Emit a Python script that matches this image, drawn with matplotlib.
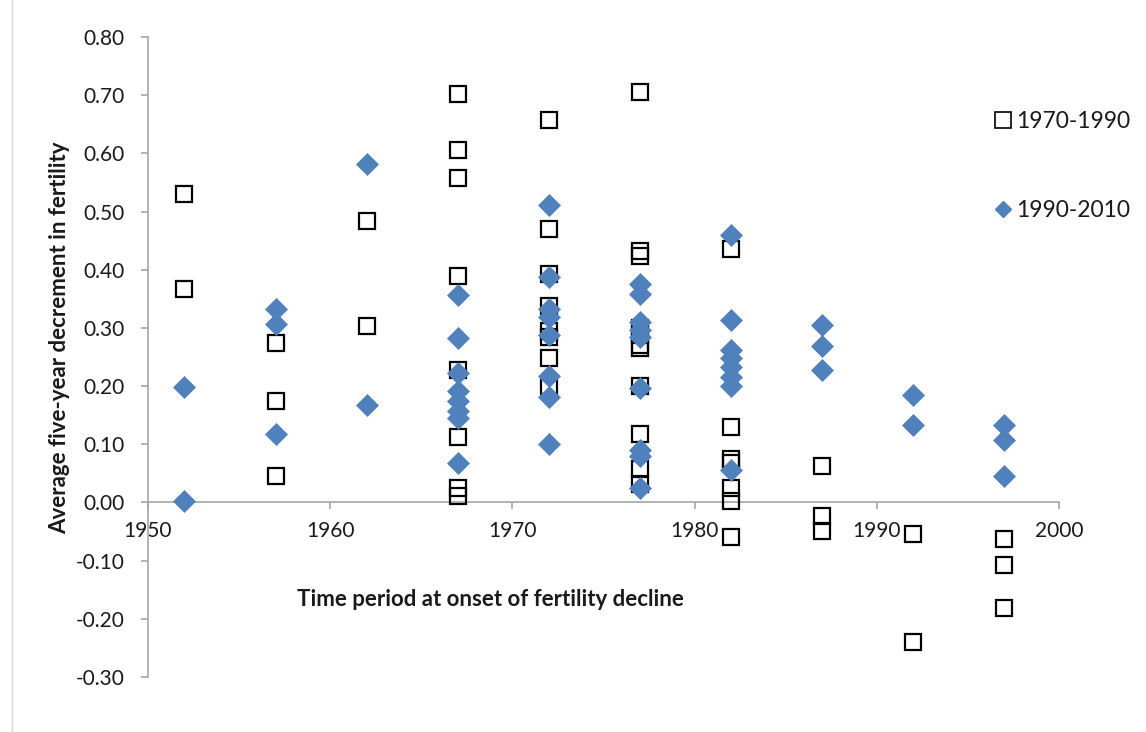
import matplotlib
matplotlib.use("Agg")
import matplotlib.pyplot as plt
from matplotlib.lines import Line2D

# ---------------------------------------------------------------------------
# Data
# ---------------------------------------------------------------------------

# 1970-1990 series (open squares)
sq_years = ([1952] * 2 + [1957] * 3 + [1962] * 2 + [1967] * 8 + [1972] * 8
            + [1977] * 11 + [1982] * 7 + [1987] * 3 + [1992] * 2 + [1997] * 3)
sq_values = [
    0.531, 0.367,
    0.274, 0.174, 0.046,
    0.483, 0.303,
    0.702, 0.606, 0.557, 0.389, 0.227, 0.113, 0.025, 0.011,
    0.657, 0.470, 0.393, 0.338, 0.295, 0.285, 0.249, 0.200,
    0.706, 0.432, 0.423, 0.300, 0.288, 0.270, 0.265, 0.200, 0.117, 0.058, 0.031,
    0.436, 0.130, 0.075, 0.068, 0.024, 0.003, -0.059,
    0.063, -0.023, -0.049,
    -0.054, -0.240,
    -0.063, -0.108, -0.181,
]

# 1990-2010 series (blue diamonds)
dia_years = ([1952] * 2 + [1957] * 3 + [1962] * 2 + [1967] * 8 + [1972] * 8
             + [1977] * 9 + [1982] * 8 + [1987] * 3 + [1992] * 2 + [1997] * 3)
dia_values = [
    0.198, 0.002,
    0.333, 0.307, 0.118,
    0.581, 0.167,
    0.356, 0.282, 0.222, 0.192, 0.174, 0.157, 0.146, 0.067,
    0.512, 0.388, 0.333, 0.319, 0.287, 0.218, 0.181, 0.101,
    0.376, 0.359, 0.310, 0.296, 0.284, 0.196, 0.091, 0.079, 0.025,
    0.459, 0.313, 0.262, 0.248, 0.232, 0.215, 0.200, 0.055,
    0.305, 0.269, 0.227,
    0.184, 0.133,
    0.133, 0.107, 0.046,
]

series_labels = ["1970-1990", "1990-2010"]
x_ticks = [1950, 1960, 1970, 1980, 1990, 2000]
y_ticks = [-0.3, -0.2, -0.1, 0.0, 0.1, 0.2, 0.3, 0.4, 0.5, 0.6, 0.7, 0.8]

BLUE = "#4F81BD"
AXIS_GREY = "#A6A6A6"

plt.rcParams.update({
    "font.family": ["Lato", "DejaVu Sans"],
    "font.size": 15,
    "text.color": "#1A1A1A",
})

fig = plt.figure(figsize=(11.46, 7.32), dpi=100)
ax = fig.add_axes([148 / 1146, 1 - 677 / 732, (1059 - 148) / 1146, (677 - 37) / 732])

ax.plot(sq_years, sq_values, linestyle="none", marker="s", markersize=12,
        markerfacecolor="none", markeredgecolor="black", markeredgewidth=1.6,
        label=series_labels[0], zorder=3)
ax.plot(dia_years, dia_values, linestyle="none", marker="D", markersize=11,
        markerfacecolor=BLUE, markeredgecolor=BLUE, markeredgewidth=0.5,
        label=series_labels[1], zorder=4)

ax.set_xlim(1950, 2000)
ax.set_ylim(-0.3, 0.8)
ax.set_xticks(x_ticks)
ax.set_yticks(y_ticks)
ax.set_yticklabels([f"{v:.2f}" for v in y_ticks])

# Excel-style axes: x axis crosses at y = 0
ax.spines["bottom"].set_position(("data", 0))
ax.spines["top"].set_visible(False)
ax.spines["right"].set_visible(False)
for side in ("left", "bottom"):
    ax.spines[side].set_color(AXIS_GREY)
    ax.spines[side].set_linewidth(1.2)
ax.tick_params(axis="both", direction="out", length=5, width=1.2,
               color=AXIS_GREY, labelsize=15, labelcolor="#1A1A1A")
ax.tick_params(axis="y", pad=12)
ax.tick_params(axis="x", pad=8)
ax.set_facecolor("none")

fig.text(60 / 1146, 1 - 338 / 732, "Average five-year decrement in fertility",
         rotation=90, ha="center", va="center", fontsize=16, fontweight="bold")
fig.text(490 / 1146, 1 - 600 / 732, "Time period at onset of fertility decline",
         ha="center", va="center", fontsize=16, fontweight="bold")

handles = [
    Line2D([], [], linestyle="none", marker="s", markersize=11,
           markerfacecolor="none", markeredgecolor="black", markeredgewidth=1.2),
    Line2D([], [], linestyle="none", marker="D", markersize=8,
           markerfacecolor=BLUE, markeredgecolor=BLUE),
]
fig.legend(handles, series_labels, loc="upper left",
           bbox_to_anchor=(982 / 1146, 1 - 100 / 732), frameon=False,
           fontsize=16.5, handlelength=0.8, handletextpad=0.2,
           labelspacing=2.95, borderpad=0)

# faint chart-area border on the left
fig.add_artist(Line2D([12 / 1146, 12 / 1146], [0, 1], transform=fig.transFigure,
                      color="#D9D9D9", linewidth=1))

fig.savefig("out.png", dpi=100, facecolor="white")
